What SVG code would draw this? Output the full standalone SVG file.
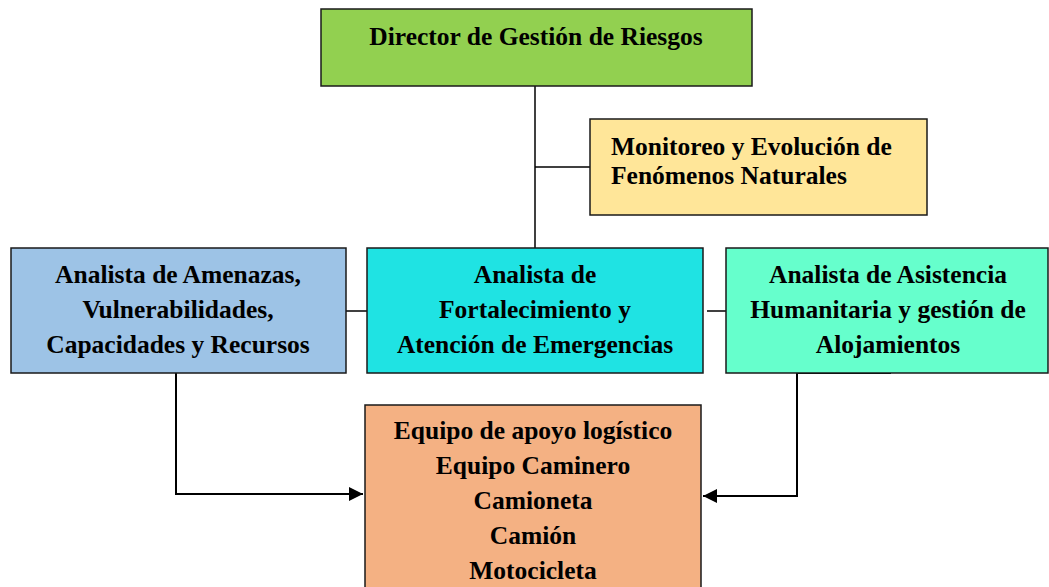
<svg xmlns="http://www.w3.org/2000/svg" width="1049" height="587" viewBox="0 0 1049 587">
<defs>
<style>
.box{stroke:#1a1a1a;stroke-width:1.5}
.t{font-family:"Liberation Serif","Times New Roman",serif;font-weight:bold;font-size:25.5px;fill:#000}
.c{text-anchor:middle}
.ln{stroke:#000;stroke-width:1.5;fill:none}
.ar{stroke:#000;stroke-width:2;fill:none}
</style>
<marker id="ah" viewBox="0 0 10 10" refX="10" refY="5" markerWidth="14" markerHeight="14" markerUnits="userSpaceOnUse" orient="auto">
<path d="M0,0 L10,5 L0,10 z" fill="#000"/>
</marker>
</defs>
<rect width="1049" height="587" fill="#fff"/>
<g id="connectors">
<line class="ln" x1="535" y1="86" x2="535" y2="248"/>
<line class="ln" x1="535" y1="167" x2="590" y2="167"/>
<line class="ln" x1="346" y1="311" x2="367" y2="311"/>
<line class="ln" x1="707" y1="311" x2="726" y2="311"/>
<polyline class="ar" points="176,373 176,494 363,494" marker-end="url(#ah)"/>
<line class="ar" x1="797" y1="373" x2="891" y2="373"/>
<polyline class="ar" points="797,373 797,496 703,496" marker-end="url(#ah)"/>
</g>
<g id="director">
<rect class="box" x="321" y="9" width="431" height="77" fill="#92d050"/>
<text class="t c" x="536" y="45">Director de Gestión de Riesgos</text>
</g>
<g id="monitoreo">
<rect class="box" x="590" y="119" width="337" height="96" fill="#ffe699"/>
<text class="t" x="611" y="155">Monitoreo y Evolución de</text>
<text class="t" x="611" y="184">Fenómenos Naturales</text>
</g>
<g id="amenazas">
<rect class="box" x="11" y="248" width="335" height="125" fill="#9dc3e6"/>
<text class="t c" x="178" y="283">Analista de Amenazas,</text>
<text class="t c" x="178" y="318">Vulnerabilidades,</text>
<text class="t c" x="178" y="353">Capacidades y Recursos</text>
</g>
<g id="fortalecimiento">
<rect class="box" x="367" y="248" width="336" height="125" fill="#1fe3e3"/>
<text class="t c" x="535" y="283">Analista de</text>
<text class="t c" x="535" y="318">Fortalecimiento y</text>
<text class="t c" x="535" y="353">Atención de Emergencias</text>
</g>
<g id="asistencia">
<rect class="box" x="726" y="248" width="322" height="125" fill="#66ffcc"/>
<text class="t c" x="888" y="283">Analista de Asistencia</text>
<text class="t c" x="888" y="318">Humanitaria y gestión de</text>
<text class="t c" x="888" y="353">Alojamientos</text>
</g>
<g id="equipo">
<rect class="box" x="365" y="405" width="336" height="190" fill="#f4b183"/>
<text class="t c" x="533" y="439">Equipo de apoyo logístico</text>
<text class="t c" x="533" y="474">Equipo Caminero</text>
<text class="t c" x="533" y="509">Camioneta</text>
<text class="t c" x="533" y="544">Camión</text>
<text class="t c" x="533" y="579">Motocicleta</text>
</g>
</svg>
